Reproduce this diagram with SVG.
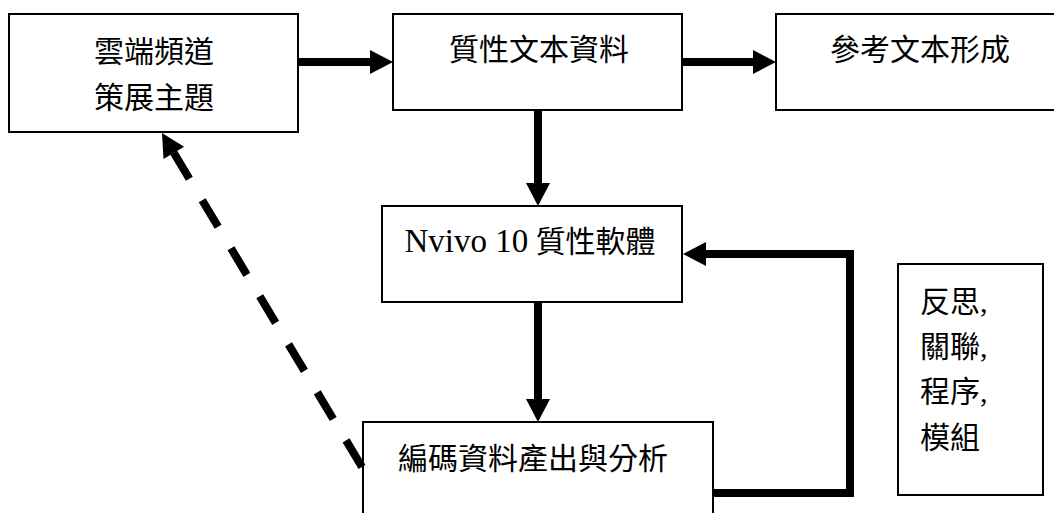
<svg xmlns="http://www.w3.org/2000/svg" width="1054" height="513" viewBox="0 0 1054 513">
<style>
.box{fill:#fff;stroke:#000;stroke-width:2}
.t{font-family:"Liberation Serif","Noto Sans CJK TC","Noto Sans CJK SC",serif;font-size:30px;fill:#000}
.c{text-anchor:middle}
.conn{fill:none;stroke:#000;stroke-width:8;stroke-linejoin:miter}
.dash{stroke-dasharray:31 25}
</style>
<defs>
<marker id="ah" markerUnits="userSpaceOnUse" markerWidth="23" markerHeight="24" refX="0" refY="12" orient="auto" overflow="visible">
<path d="M0,0 L23,12 L0,24 z" fill="#000"/>
</marker>
</defs>
<rect width="1054" height="513" fill="#fff"/>
<g id="node-cloud">
<rect class="box" x="9" y="14" width="289" height="118"/>
<text class="t c" x="154" y="62">雲端頻道</text>
<text class="t c" x="154" y="108">策展主題</text>
</g>
<g id="node-qualitative">
<rect class="box" x="393" y="14" width="289" height="96"/>
<text class="t c" x="539" y="60">質性文本資料</text>
</g>
<g id="node-reference">
<rect class="box" x="776" y="14" width="300" height="96"/>
<text class="t c" x="920" y="60">參考文本形成</text>
</g>
<g id="node-nvivo">
<rect class="box" x="382" y="206" width="300" height="96"/>
<text class="t c" x="530" y="252"><tspan font-size="33">Nvivo 10</tspan> 質性軟體</text>
</g>
<g id="node-coding">
<rect class="box" x="363" y="422" width="350" height="110"/>
<text class="t c" x="533" y="469">編碼資料產出與分析</text>
</g>
<g id="node-reflect">
<rect class="box" x="898" y="264" width="145" height="231"/>
<text class="t" x="920" y="312">反思,</text>
<text class="t" x="920" y="357">關聯,</text>
<text class="t" x="920" y="402">程序,</text>
<text class="t" x="920" y="448">模組</text>
</g>
<g id="connectors">
<path class="conn" d="M298,62 H370" marker-end="url(#ah)"/>
<path class="conn" d="M682,62 H753" marker-end="url(#ah)"/>
<path class="conn" d="M538,110 V183" marker-end="url(#ah)"/>
<path class="conn" d="M538,302 V399" marker-end="url(#ah)"/>
<path class="conn" d="M713,493 H850 V254 H706" marker-end="url(#ah)"/>
<path class="conn dash" d="M362,467 L173.8,152.8" marker-end="url(#ah)"/>
</g>
</svg>
